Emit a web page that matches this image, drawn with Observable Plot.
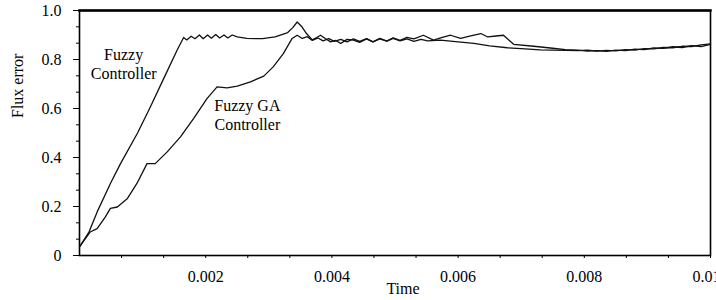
<!DOCTYPE html>
<html><head><meta charset="utf-8">
<script src="https://cdn.jsdelivr.net/npm/d3@7"></script>
<script src="https://cdn.jsdelivr.net/npm/@observablehq/plot@0.6"></script>
<style>body{margin:0;background:#fff}</style>
</head><body><div id="chart"></div>
<script>
const fuzzyTime = [0, 0.00015, 0.00028, 0.00049, 0.00065, 0.00092, 0.00113, 0.00133, 0.00155, 0.00165,
  0.0017, 0.00177, 0.00183, 0.0019, 0.00196, 0.00203, 0.00209, 0.00216, 0.00222, 0.00229,
  0.00235, 0.00242, 0.0025, 0.00265, 0.0029, 0.0031, 0.0033, 0.00338, 0.00345, 0.00352,
  0.0036, 0.00369, 0.00376, 0.00382, 0.0039, 0.00398, 0.00406, 0.00414, 0.00424, 0.00434,
  0.00444, 0.00455, 0.00465, 0.00476, 0.00487, 0.00497, 0.00508, 0.00519, 0.0053, 0.00545,
  0.00561, 0.00575, 0.00588, 0.00604, 0.0062, 0.00636, 0.00647, 0.0066, 0.00672, 0.00688,
  0.0072, 0.0075, 0.0077, 0.0079, 0.00805, 0.0082, 0.00835, 0.0085, 0.00865, 0.0088,
  0.00895, 0.0091, 0.00925, 0.0094, 0.00955, 0.0097, 0.00985, 0.01];
const fuzzyFlux = [0.035, 0.096, 0.178, 0.294, 0.375, 0.50, 0.61, 0.72, 0.84, 0.89,
  0.88, 0.895, 0.885, 0.90, 0.885, 0.90, 0.887, 0.902, 0.888, 0.90,
  0.888, 0.90, 0.892, 0.886, 0.885, 0.892, 0.91, 0.93, 0.953, 0.935,
  0.905, 0.88, 0.89, 0.899, 0.885, 0.872, 0.878, 0.865, 0.882, 0.879,
  0.87, 0.884, 0.872, 0.886, 0.875, 0.888, 0.878, 0.89, 0.884, 0.899,
  0.879, 0.89, 0.899, 0.886, 0.896, 0.906, 0.892, 0.896, 0.899, 0.862,
  0.854, 0.846, 0.84, 0.838, 0.834, 0.836, 0.833, 0.838, 0.836, 0.842,
  0.84, 0.847, 0.845, 0.852, 0.849, 0.857, 0.853, 0.862];
const gaTime = [0, 0.00017, 0.00028, 0.00041, 0.00049, 0.0006, 0.00076, 0.00091, 0.00107, 0.0012,
  0.00139, 0.0016, 0.00181, 0.00202, 0.00218, 0.00234, 0.0025, 0.00271, 0.00292, 0.00307,
  0.00323, 0.00337, 0.00345, 0.00353, 0.00361, 0.00369, 0.00378, 0.00386, 0.00395, 0.00404,
  0.00414, 0.00424, 0.00434, 0.00444, 0.00455, 0.00465, 0.00476, 0.00487, 0.00497, 0.00508,
  0.00519, 0.0053, 0.00541, 0.00552, 0.00572, 0.006, 0.00625, 0.0065, 0.00678, 0.007,
  0.0073, 0.0075, 0.0077, 0.0079, 0.00805, 0.0082, 0.00835, 0.0085, 0.00865, 0.0088,
  0.00895, 0.0091, 0.00925, 0.0094, 0.00955, 0.0097, 0.00985, 0.01];
const gaFlux = [0.035, 0.096, 0.11, 0.158, 0.192, 0.198, 0.233, 0.294, 0.375, 0.375,
  0.423, 0.484, 0.56, 0.64, 0.688, 0.684, 0.691, 0.709, 0.732, 0.77,
  0.824, 0.886, 0.899, 0.886, 0.893, 0.878, 0.888, 0.876, 0.885, 0.874,
  0.882, 0.872, 0.884, 0.874, 0.885, 0.872, 0.884, 0.875, 0.886, 0.876,
  0.884, 0.874, 0.882, 0.876, 0.879, 0.872, 0.866, 0.856, 0.848, 0.844,
  0.839, 0.838, 0.837, 0.836, 0.838, 0.834, 0.837, 0.835, 0.84, 0.838,
  0.844, 0.843, 0.849, 0.848, 0.854, 0.853, 0.86, 0.864];

const xMajorTicks = [0.002, 0.004, 0.006, 0.008, 0.010];
const xTickLabels = ["0.002", "0.004", "0.006", "0.008", "0.010"];
const yMajorTicks = [0, 0.2, 0.4, 0.6, 0.8, 1.0];
const yTickLabels = ["0", "0.2", "0.4", "0.6", "0.8", "1.0"];
const noteText = ["Fuzzy\nController", "Fuzzy GA\nController"];
const noteTime = [0.0007, 0.00266];
const noteFlux = [0.785, 0.577];
const xTitle = "Time";
const yTitle = "Flux error";

const fuzzy = fuzzyTime.map((t, i) => ({t, v: fuzzyFlux[i]}));
const ga = gaTime.map((t, i) => ({t, v: gaFlux[i]}));
const notes = noteText.map((s, i) => ({s, t: noteTime[i], v: noteFlux[i]}));
const xMinor = d3.range(1, 15).filter(i => i % 3 !== 0).map(i => i * 0.01 / 15);
const yMinor = d3.range(1, 15).filter(i => i % 3 !== 0).map(i => i / 15);

const font = "Liberation Serif";
const chart = Plot.plot({
  width: 716, height: 300,
  marginLeft: 79, marginRight: 6, marginTop: 10, marginBottom: 45,
  x: {domain: [0, 0.01]},
  y: {domain: [0, 1]},
  marks: [
    Plot.axisX(xMinor, {tickSize: 3, text: null, label: null, stroke: "#000"}),
    Plot.axisX(xMajorTicks, {tickSize: 3, tickPadding: 12, label: null, fontSize: 16, fontFamily: font, fill: "#000", stroke: "#000",
      tickFormat: d => xTickLabels[xMajorTicks.indexOf(d)]}),
    Plot.axisY(yMinor, {tickSize: 3, text: null, label: null, stroke: "#000"}),
    Plot.axisY(yMajorTicks, {tickSize: 6, tickPadding: 12, label: null, fontSize: 16, fontFamily: font, fill: "#000", stroke: "#000",
      tickFormat: d => yTickLabels[yMajorTicks.indexOf(d)]}),
    Plot.frame({stroke: "#000", strokeWidth: 1.6}),
    Plot.frame({anchor: "top", stroke: "#000", strokeWidth: 2.4}),
    Plot.line(fuzzy, {x: "t", y: "v", stroke: "#111", strokeWidth: 1.3}),
    Plot.line(ga, {x: "t", y: "v", stroke: "#111", strokeWidth: 1.3}),
    Plot.text(notes, {x: "t", y: "v", text: "s", fontSize: 16, fontFamily: font, lineHeight: 1.22, fill: "#000"}),
    Plot.text([xTitle], {frameAnchor: "bottom", dy: 38, dx: 8, fontSize: 16, fontFamily: font, fill: "#000"}),
    Plot.text([yTitle], {frameAnchor: "left", dx: -62, dy: -15, rotate: -90, fontSize: 16, fontFamily: font, fill: "#000"})
  ]
});
document.getElementById("chart").append(chart);
</script>
</body></html>
